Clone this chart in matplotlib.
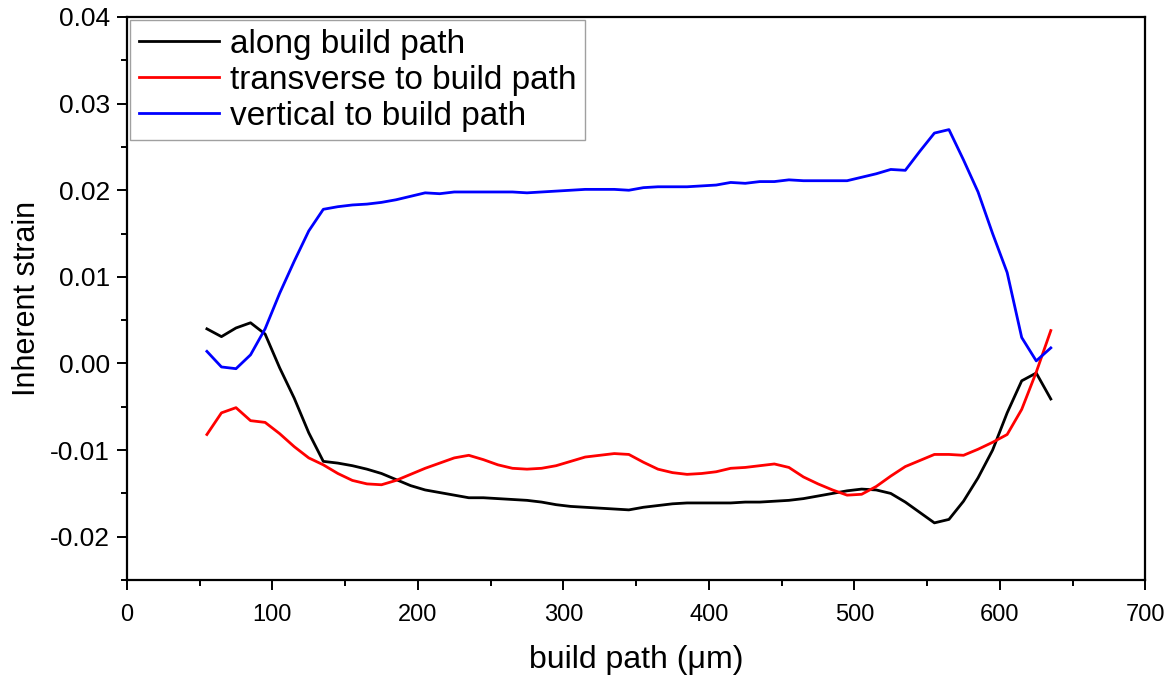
import matplotlib
matplotlib.use('Agg')
import matplotlib.pyplot as plt
from matplotlib.ticker import MultipleLocator, FormatStrFormatter

plt.rcParams['font.family'] = ['Liberation Sans', 'DejaVu Sans']
plt.rcParams['axes.unicode_minus'] = False

# build path positions (um)
buildPath = [55, 65, 75, 85, 95, 105, 115, 125, 135, 145,
             155, 165, 175, 185, 195, 205, 215, 225, 235, 245,
             255, 265, 275, 285, 295, 305, 315, 325, 335, 345,
             355, 365, 375, 385, 395, 405, 415, 425, 435, 445,
             455, 465, 475, 485, 495, 505, 515, 525, 535, 545,
             555, 565, 575, 585, 595, 605, 615, 625, 635]

alongStrain = [0.0040, 0.0031, 0.0041, 0.0047, 0.0034, -0.0005, -0.0040, -0.0080, -0.0113, -0.0115,
               -0.0118, -0.0122, -0.0127, -0.0134, -0.0141, -0.0146, -0.0149, -0.0152, -0.0155, -0.0155,
               -0.0156, -0.0157, -0.0158, -0.0160, -0.0163, -0.0165, -0.0166, -0.0167, -0.0168, -0.0169,
               -0.0166, -0.0164, -0.0162, -0.0161, -0.0161, -0.0161, -0.0161, -0.0160, -0.0160, -0.0159,
               -0.0158, -0.0156, -0.0153, -0.0150, -0.0147, -0.0145, -0.0146, -0.0150, -0.0160, -0.0172,
               -0.0184, -0.0180, -0.0159, -0.0132, -0.0100, -0.0057, -0.0020, -0.0011, -0.0041]

transStrain = [-0.0082, -0.0057, -0.0051, -0.0066, -0.0068, -0.0081, -0.0096, -0.0109, -0.0117, -0.0127,
               -0.0135, -0.0139, -0.0140, -0.0135, -0.0128, -0.0121, -0.0115, -0.0109, -0.0106, -0.0111,
               -0.0117, -0.0121, -0.0122, -0.0121, -0.0118, -0.0113, -0.0108, -0.0106, -0.0104, -0.0105,
               -0.0114, -0.0122, -0.0126, -0.0128, -0.0127, -0.0125, -0.0121, -0.0120, -0.0118, -0.0116,
               -0.0120, -0.0131, -0.0139, -0.0146, -0.0152, -0.0151, -0.0142, -0.0130, -0.0119, -0.0112,
               -0.0105, -0.0105, -0.0106, -0.0099, -0.0091, -0.0082, -0.0053, -0.0010, 0.0038]

vertStrain = [0.0014, -0.0004, -0.0006, 0.0010, 0.0040, 0.0081, 0.0118, 0.0153, 0.0178, 0.0181,
              0.0183, 0.0184, 0.0186, 0.0189, 0.0193, 0.0197, 0.0196, 0.0198, 0.0198, 0.0198,
              0.0198, 0.0198, 0.0197, 0.0198, 0.0199, 0.0200, 0.0201, 0.0201, 0.0201, 0.0200,
              0.0203, 0.0204, 0.0204, 0.0204, 0.0205, 0.0206, 0.0209, 0.0208, 0.0210, 0.0210,
              0.0212, 0.0211, 0.0211, 0.0211, 0.0211, 0.0215, 0.0219, 0.0224, 0.0223, 0.0245,
              0.0266, 0.0270, 0.0235, 0.0198, 0.0150, 0.0105, 0.0030, 0.0003, 0.0018]

fig = plt.figure(figsize=(11.64, 6.80), dpi=100)
ax = fig.add_axes([0.109, 0.147, 0.875, 0.828])

ax.plot(buildPath, alongStrain, color='black', lw=2.0, label='along build path')
ax.plot(buildPath, transStrain, color='red', lw=2.0, label='transverse to build path')
ax.plot(buildPath, vertStrain, color='blue', lw=2.0, label='vertical to build path')

ax.set_xlim(0, 700)
ax.set_ylim(-0.025, 0.04)
ax.xaxis.set_major_locator(MultipleLocator(100))
ax.xaxis.set_minor_locator(MultipleLocator(50))
ax.yaxis.set_major_locator(MultipleLocator(0.01))
ax.yaxis.set_minor_locator(MultipleLocator(0.005))
ax.yaxis.set_major_formatter(FormatStrFormatter('%.2f'))
ax.tick_params(which='major', direction='out', length=7, width=1.4)
ax.tick_params(which='minor', direction='out', length=4, width=1.4)
ax.tick_params(axis='x', labelsize=17, pad=10)
ax.tick_params(axis='y', labelsize=19, pad=5)
for sp in ax.spines.values():
    sp.set_linewidth(1.6)

ax.set_xlabel('build path (\u03bcm)', fontsize=23, labelpad=14)
ax.set_ylabel('Inherent strain', fontsize=22, labelpad=6)

leg = ax.legend(loc='upper left', fontsize=24, frameon=True, fancybox=False,
                edgecolor='#888888', borderpad=0.25, labelspacing=0.15,
                handlelength=2.4, handletextpad=0.35, borderaxespad=0.1)
leg.get_frame().set_linewidth(1.0)

plt.savefig('out.png', dpi=100)
plt.close()
